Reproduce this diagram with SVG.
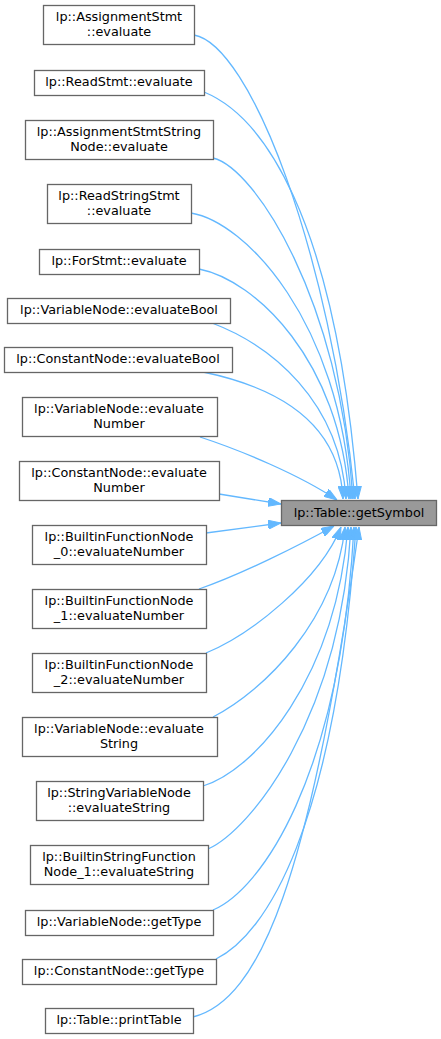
<svg xmlns="http://www.w3.org/2000/svg" width="441" height="1039" viewBox="0 0 441 1039">
<style>
.n rect{fill:#ffffff;stroke:#666666;stroke-width:1.3}
.t rect{fill:#999999;stroke:#666666;stroke-width:1.3}
text{font-family:"DejaVu Sans","Liberation Sans",sans-serif;font-size:12.8px;fill:#000000;text-anchor:middle}
.e path{fill:none;stroke:#63b8ff;stroke-width:1.3;marker-end:url(#ah)}
</style>
<defs>
<marker id="ah" markerUnits="userSpaceOnUse" viewBox="0 0 13 9" refX="13" refY="4.5" markerWidth="13" markerHeight="9" orient="auto">
<path d="M0,0 L13,4.5 L0,9 z" fill="#63b8ff" stroke="#63b8ff" stroke-width="1"/>
</marker>
</defs>
<g id="edges" class="e">
<path d="M194,35 C250,45 330,250 355,499"/>
<path d="M204,92 C260,115 335,210 358,499"/>
<path d="M213,158 C255,168 340,300 353,499"/>
<path d="M191,213 C245,222 340,320 351,499"/>
<path d="M199,269 C255,280 340,360 349,499"/>
<path d="M212,323 C270,345 340,400 346,499"/>
<path d="M203,372 C290,390 340,430 343,499"/>
<path d="M200,437 C240,450 300,475 337,500"/>
<path d="M219,494 L281,504"/>
<path d="M206,533 L281,523"/>
<path d="M199,589 C240,575 300,545 334,526"/>
<path d="M206,653 C250,635 320,580 341,527"/>
<path d="M213,717 C265,690 335,620 345,527"/>
<path d="M203,786 C255,770 335,680 348,527"/>
<path d="M208,849 C250,830 340,720 351,527"/>
<path d="M213,910 C260,890 340,780 354,527"/>
<path d="M216,959 C265,935 335,830 356,527"/>
<path d="M193,1017 C260,1000 310,880 359,527"/>
</g>
<g id="n1" class="n"><rect x="43.5" y="5.5" width="151" height="39"/><text x="119" y="21">lp::AssignmentStmt</text><text x="119" y="35.5">::evaluate</text></g>
<g id="n2" class="n"><rect x="34.5" y="70.5" width="170" height="25"/><text x="119" y="86">lp::ReadStmt::evaluate</text></g>
<g id="n3" class="n"><rect x="25.5" y="120.5" width="188" height="39"/><text x="119" y="136">lp::AssignmentStmtString</text><text x="119" y="150.5">Node::evaluate</text></g>
<g id="n4" class="n"><rect x="47.5" y="184.5" width="144" height="39"/><text x="119" y="200">lp::ReadStringStmt</text><text x="119" y="214.5">::evaluate</text></g>
<g id="n5" class="n"><rect x="39.5" y="249.5" width="160" height="25"/><text x="119" y="265">lp::ForStmt::evaluate</text></g>
<g id="n6" class="n"><rect x="7.5" y="298.5" width="223" height="25"/><text x="119" y="314">lp::VariableNode::evaluateBool</text></g>
<g id="n7" class="n"><rect x="4.5" y="347.5" width="228" height="25"/><text x="118" y="363">lp::ConstantNode::evaluateBool</text></g>
<g id="n8" class="n"><rect x="22.5" y="397.5" width="195" height="39"/><text x="119" y="413">lp::VariableNode::evaluate</text><text x="119" y="427.5">Number</text></g>
<g id="n9" class="n"><rect x="19.5" y="461.5" width="200" height="39"/><text x="119" y="477">lp::ConstantNode::evaluate</text><text x="119" y="491.5">Number</text></g>
<g id="n10" class="n"><rect x="32.5" y="525.5" width="174" height="39"/><text x="119" y="541">lp::BuiltinFunctionNode</text><text x="119" y="555.5">_0::evaluateNumber</text></g>
<g id="n11" class="n"><rect x="32.5" y="589.5" width="174" height="39"/><text x="119" y="605">lp::BuiltinFunctionNode</text><text x="119" y="619.5">_1::evaluateNumber</text></g>
<g id="n12" class="n"><rect x="32.5" y="653.5" width="174" height="39"/><text x="119" y="669">lp::BuiltinFunctionNode</text><text x="119" y="683.5">_2::evaluateNumber</text></g>
<g id="n13" class="n"><rect x="22.5" y="717.5" width="195" height="39"/><text x="119" y="733">lp::VariableNode::evaluate</text><text x="119" y="747.5">String</text></g>
<g id="n14" class="n"><rect x="36.5" y="781.5" width="167" height="39"/><text x="119" y="797">lp::StringVariableNode</text><text x="119" y="811.5">::evaluateString</text></g>
<g id="n15" class="n"><rect x="30.5" y="845.5" width="178" height="39"/><text x="119" y="861">lp::BuiltinStringFunction</text><text x="119" y="875.5">Node_1::evaluateString</text></g>
<g id="n16" class="n"><rect x="25.5" y="910.5" width="188" height="25"/><text x="119" y="926">lp::VariableNode::getType</text></g>
<g id="n17" class="n"><rect x="22.5" y="959.5" width="194" height="25"/><text x="119" y="975">lp::ConstantNode::getType</text></g>
<g id="n18" class="n"><rect x="45.5" y="1008.5" width="148" height="25"/><text x="119" y="1024">lp::Table::printTable</text></g>
<g id="target" class="t"><rect x="281.5" y="500.5" width="155" height="25"/><text x="359" y="517">lp::Table::getSymbol</text></g>
</svg>
